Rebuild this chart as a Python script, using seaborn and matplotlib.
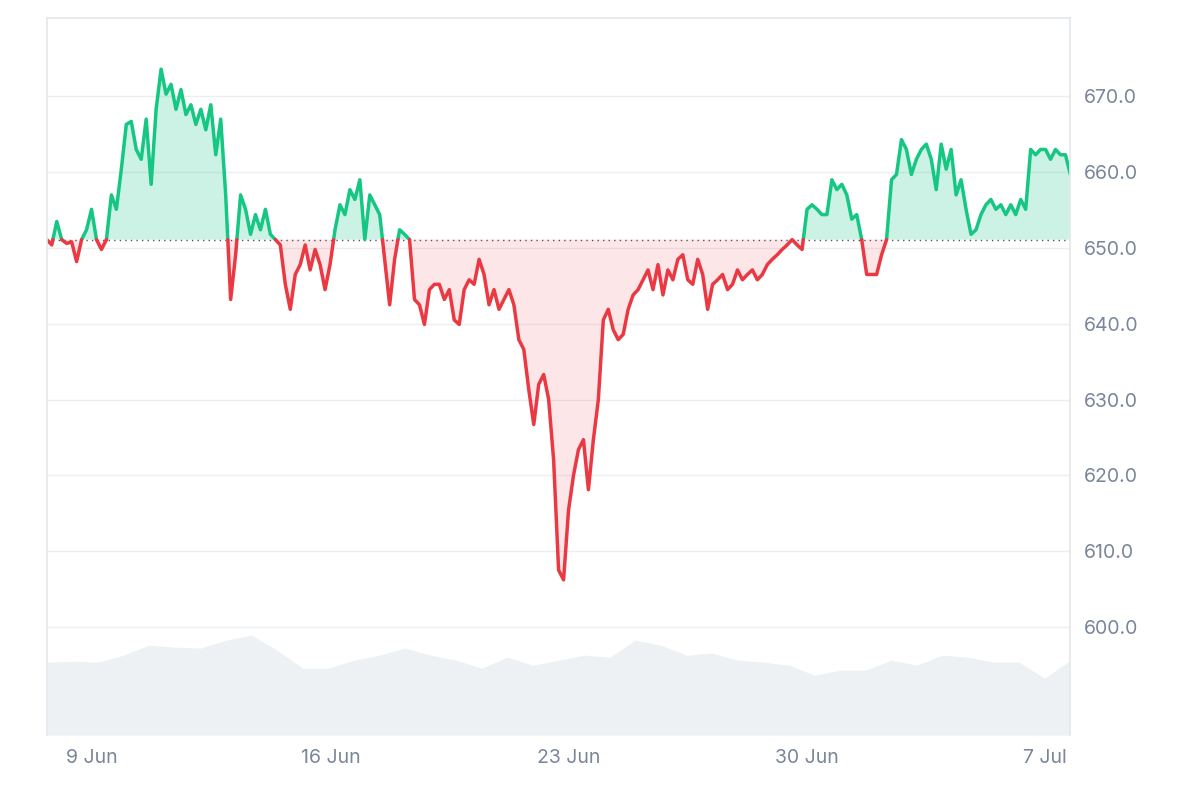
import numpy as np
import pandas as pd
import matplotlib.pyplot as plt
import matplotlib.dates as mdates
import seaborn as sns

# price, roughly every 3.5 hours
prices = [
    651.1, 650.4, 653.5, 651.1, 650.6, 650.8, 648.2, 651.1, 652.4, 655.1,
    651.1, 649.8, 651.1, 657.0, 655.1, 660.4, 666.3, 666.7, 663.0, 661.7,
    667.0, 658.4, 668.3, 673.6, 670.3, 671.6, 668.3, 670.9, 667.6, 668.9,
    666.3, 668.3, 665.6, 668.9, 662.3, 667.0, 657.0, 643.2, 649.1, 657.0,
    655.1, 651.8, 654.4, 652.4, 655.1, 651.8, 651.1, 650.4, 645.2, 641.9,
    646.5, 647.8, 650.4, 647.1, 649.8, 647.8, 644.5, 647.8, 652.4, 655.7,
    654.4, 657.7, 656.4, 659.0, 651.1, 657.0, 655.7, 654.4, 648.5, 642.5,
    648.5, 652.4, 651.8, 651.1, 643.2, 642.5, 639.9, 644.5, 645.2, 645.2,
    643.2, 644.5, 640.5, 639.9, 644.5, 645.8, 645.2, 648.5, 646.5, 642.5,
    644.5, 641.9, 643.2, 644.5, 642.5, 637.9, 636.6, 631.3, 626.7, 632.0,
    633.3, 630.0, 622.0, 607.5, 606.2, 615.4, 620.0, 623.4, 624.7, 618.1,
    624.7, 630.0, 640.5, 641.9, 639.2, 637.9, 638.6, 641.9, 643.8, 644.5,
    645.8, 647.1, 644.5, 647.8, 643.8, 647.1, 645.8, 648.5, 649.1, 645.8,
    645.2, 648.5, 646.5, 641.9, 645.2, 645.8, 646.5, 644.5, 645.2, 647.1,
    645.8, 646.5, 647.1, 645.8, 646.5, 647.8, 648.5, 649.1, 649.8, 650.4,
    651.1, 650.4, 649.8, 655.1, 655.7, 655.1, 654.4, 654.4, 659.0, 657.7,
    658.4, 657.0, 653.8, 654.4, 651.1, 646.5, 646.5, 646.5, 649.1, 651.1,
    659.0, 659.7, 664.3, 663.0, 659.7, 661.7, 663.0, 663.7, 661.7, 657.7,
    663.7, 660.4, 663.0, 657.0, 659.0, 655.1, 651.8, 652.4, 654.4, 655.7,
    656.4, 655.1, 655.7, 654.4, 655.7, 654.4, 656.4, 655.1, 663.0, 662.3,
    663.0, 663.0, 661.7, 663.0, 662.3, 662.3, 659.7,
]
# trading volume (relative units) along the same period
volumes = [73, 74, 73, 80, 90, 88, 87, 95, 100, 85, 67, 67, 75, 80,
           87, 80, 75, 67, 78, 70, 75, 80, 78, 95, 90, 80, 82, 75, 73,
           70, 60, 65, 65, 75, 70, 80, 78, 73, 73, 57, 75]
baseline = 651.1
ticks_y = [600, 610, 620, 630, 640, 650, 660, 670]

times = pd.date_range("2025-06-07 16:00", "2025-07-07 18:00", periods=len(prices))
vtimes = pd.date_range("2025-06-07 16:00", "2025-07-07 18:00", periods=len(volumes))

sns.set_theme(style="white")
plt.rcParams['font.family'] = ['Inter', 'DejaVu Sans']

green, red = "#16c784", "#ea3943"
fig = plt.figure(figsize=(12, 8), dpi=100)
ax = fig.add_axes([0.039, 0.081, 0.853, 0.897])

# volume on twin axis, drawn behind
axv = ax.twinx()
axv.fill_between(vtimes, 0, volumes, color="#eef1f4", lw=0)
axv.set_ylim(0, 717)
axv.set_yticks([])
for s in axv.spines.values():
    s.set_visible(False)
ax.set_zorder(axv.get_zorder() + 1)
ax.patch.set_visible(False)

# insert baseline crossings so colours switch cleanly
x = mdates.date2num(times)
y = np.array(prices)
xs, ys = [x[0]], [y[0]]
for i in range(1, len(y)):
    if (y[i - 1] - baseline) * (y[i] - baseline) < 0:
        t = (baseline - y[i - 1]) / (y[i] - y[i - 1])
        xs.append(x[i - 1] + t * (x[i] - x[i - 1]))
        ys.append(baseline)
    xs.append(x[i])
    ys.append(y[i])
xs, ys = np.array(xs), np.array(ys)
xd = mdates.num2date(xs)

ax.fill_between(xd, baseline, ys, where=ys >= baseline, color=green, alpha=0.22, lw=0)
ax.fill_between(xd, baseline, ys, where=ys <= baseline, color=red, alpha=0.12, lw=0)
ax.axhline(baseline, color="#555555", lw=1, ls=(0, (1, 3)))
up = np.where(ys >= baseline, ys, np.nan)
dn = np.where(ys <= baseline, ys, np.nan)
ax.plot(xd, up, color=green, lw=2.5, solid_joinstyle="round")
ax.plot(xd, dn, color=red, lw=2.5, solid_joinstyle="round")

ax.set_xlim(times[0], times[-1])
ax.set_ylim(585.7, 680.4)
ax.yaxis.tick_right()
ax.set_yticks(ticks_y)
ax.set_yticklabels([f"{v:.1f}" for v in ticks_y])
ax.grid(axis="y", color="#eceef1", lw=1)
ax.set_xticks(pd.to_datetime(["2025-06-09", "2025-06-16", "2025-06-23", "2025-06-30", "2025-07-07"]))
ax.set_xticklabels(["9 Jun", "16 Jun", "23 Jun", "30 Jun", "7 Jul"])
ax.tick_params(colors="#7a8699", labelsize=14, length=0, pad=10)
for name, s in ax.spines.items():
    s.set_color("#e5e8ec")
    s.set_visible(name != "bottom")
ax.set_xlabel("")
ax.set_ylabel("")

fig.savefig("out.png")
